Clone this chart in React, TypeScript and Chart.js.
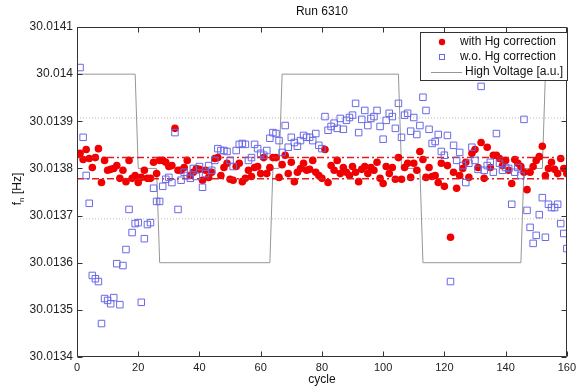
import React, { useEffect, useRef } from 'react';
import { Chart, registerables } from 'chart.js';

Chart.register(...registerables);

const titleText = 'Run 6310';
const xTitle = 'cycle';
const yTitleMain = 'f';
const yTitleSub = 'n';
const yTitleUnit = ' [Hz]';
const legendLabels = ['with Hg correction', 'w.o. Hg correction', 'High Voltage [a.u.]'];

const xTickValues = [0, 20, 40, 60, 80, 100, 120, 140, 160];
const xTickLabels = ['0', '20', '40', '60', '80', '100', '120', '140', '160'];
const yTickValues = [30.0134, 30.0135, 30.0136, 30.0137, 30.0138, 30.0139, 30.014, 30.0141];
const yTickLabels = ['30.0134', '30.0135', '30.0136', '30.0137', '30.0138', '30.0139', '30.014', '30.0141'];

const cycles = Array.from({ length: 160 }, (_, i) => i + 1);

const withHg = [
  30.013832, 30.013819, 30.01384, 30.013821, 30.013802, 30.013823, 30.013842, 30.01377, 30.013817, 30.013796,
  30.013798, 30.0138, 30.013806, 30.013779, 30.013796, 30.013772, 30.013817, 30.013779, 30.013785, 30.01377,
  30.013781, 30.013796, 30.013779, 30.013779, 30.013813, 30.013789, 30.013817, 30.013817, 30.013813, 30.013804,
  30.013806, 30.013885, 30.013796, 30.013796, 30.013802, 30.013817, 30.013785, 30.013792, 30.0138, 30.013798,
  30.013775, 30.013796, 30.013781, 30.013792, 30.013821, 30.013823, 30.013785, 30.013802, 30.013811, 30.013777,
  30.013775, 30.013804, 30.013811, 30.013772, 30.013779, 30.013796, 30.013783, 30.013802, 30.013804, 30.013789,
  30.013823, 30.013789, 30.013802, 30.013823, 30.013823, 30.013781, 30.013808, 30.013828, 30.013789, 30.013813,
  30.013772, 30.013792, 30.0138, 30.013811, 30.013796, 30.013798, 30.013817, 30.013792, 30.013785, 30.013779,
  30.01384, 30.01377, 30.013806, 30.013796, 30.013817, 30.013789, 30.013802, 30.013792, 30.013785, 30.013804,
  30.013792, 30.013772, 30.013798, 30.013804, 30.013789, 30.013802, 30.013796, 30.013813, 30.013779, 30.013768,
  30.013804, 30.013789, 30.013802, 30.013777, 30.013823, 30.013777, 30.013802, 30.013811, 30.013781, 30.013811,
  30.013796, 30.013836, 30.013819, 30.013781, 30.013802, 30.013783, 30.013785, 30.01377, 30.013811, 30.013762,
  30.013806, 30.013654, 30.013792, 30.013758, 30.013785, 30.0138, 30.013813, 30.013781, 30.013832, 30.01384,
  30.013802, 30.013855, 30.013779, 30.013845, 30.013802, 30.013828, 30.013828, 30.013821, 30.013806, 30.013817,
  30.013796, 30.013768, 30.013819, 30.013811, 30.013804, 30.013792, 30.013755, 30.013792, 30.013804, 30.013817,
  30.013825, 30.013847, 30.013785, 30.0138, 30.013813, 30.013798, 30.013789, 30.013821, 30.0138, 30.013789,
];

const withoutHg = [
  30.014014, 30.013866, 30.013785, 30.013726, 30.013573, 30.013566, 30.01356, 30.013471, 30.013524, 30.01352,
  30.013513, 30.013526, 30.013598, 30.013511, 30.013594, 30.013628, 30.013713, 30.013664, 30.013683, 30.013685,
  30.013516, 30.013651, 30.013681, 30.013685, 30.013758, 30.01373, 30.01373, 30.013762, 30.013777, 30.013781,
  30.01377, 30.013876, 30.013713, 30.013775, 30.013792, 30.013785, 30.013779, 30.0138, 30.013783, 30.013804,
  30.01376, 30.013789, 30.013806, 30.013796, 30.013817, 30.013842, 30.013838, 30.013838, 30.013836, 30.013817,
  30.013804, 30.013838, 30.013851, 30.013853, 30.013851, 30.013817, 30.013823, 30.013851, 30.013842, 30.013832,
  30.013828, 30.013838, 30.013864, 30.013876, 30.013874, 30.013859, 30.013834, 30.013891, 30.013845, 30.013866,
  30.013855, 30.013847, 30.013859, 30.01387, 30.013866, 30.013866, 30.013859, 30.013874, 30.013849, 30.013842,
  30.01391, 30.013881, 30.013889, 30.013896, 30.013885, 30.013906, 30.013883, 30.013902, 30.013908, 30.013913,
  30.013938, 30.013876, 30.013904, 30.013923, 30.013891, 30.013906, 30.01391, 30.013923, 30.013889, 30.013862,
  30.013902, 30.013917, 30.01391, 30.013885, 30.013938, 30.013866, 30.013913, 30.013917, 30.013879, 30.013908,
  30.013872, 30.013891, 30.013951, 30.013923, 30.013883, 30.013853, 30.013857, 30.013872, 30.013836, 30.013828,
  30.01387, 30.01356, 30.013849, 30.013817, 30.013834, 30.013806, 30.01377, 30.013811, 30.013845, 30.013817,
  30.013798, 30.013974, 30.013796, 30.013806, 30.013813, 30.013792, 30.013874, 30.013811, 30.013796, 30.013802,
  30.0138, 30.013724, 30.013792, 30.013802, 30.013785, 30.013904, 30.013711, 30.013675, 30.013641, 30.013658,
  30.013702, 30.013738, 30.013654, 30.013724, 30.013717, 30.013717, 30.013724, 30.013683, 30.013662, 30.01363,
];

// High voltage trace (arbitrary units mapped on the frequency axis)
const hvCycles = [0, 19, 20, 26, 27, 63, 64, 66, 67, 105, 106, 112, 113, 145, 146, 152, 153, 160];
const hvLevels = [
  30.014, 30.014, 30.0138, 30.0138, 30.0136, 30.0136, 30.0138, 30.0138, 30.014,
  30.014, 30.0138, 30.0138, 30.0136, 30.0136, 30.0138, 30.0138, 30.014, 30.014,
];

// mean +/- sigma bands
const redBandLevels = [30.013823, 30.013778];
const grayBandLevels = [30.013907, 30.013693];
const xRange = [0, 160];

const RED = 'rgb(240,0,0)';
const BLUE = 'rgb(105,105,230)';
const HV_GRAY = 'rgb(150,150,150)';
const FONT = '"Liberation Sans", Arial, Helvetica, sans-serif';

const overlayPlugin = {
  id: 'overlay',
  afterDatasetsDraw(chart: any) {
    const { ctx, chartArea: a, scales } = chart;
    const xs = scales.x;
    const ys = scales.y;
    ctx.save();
    ctx.strokeStyle = '#333';
    ctx.lineWidth = 1;
    const L = Math.round(a.left) + 0.5;
    const R = Math.round(a.right) - 0.5;
    const T = Math.round(a.top) + 0.5;
    const B = Math.round(a.bottom) - 0.5;
    ctx.beginPath();
    ctx.rect(L, T, R - L, B - T);
    ctx.stroke();
    ctx.beginPath();
    xTickValues.forEach((v) => {
      const px = Math.round(xs.getPixelForValue(v)) + 0.5;
      ctx.moveTo(px, B);
      ctx.lineTo(px, B - 5);
      ctx.moveTo(px, T);
      ctx.lineTo(px, T + 5);
    });
    yTickValues.forEach((v) => {
      const py = Math.round(ys.getPixelForValue(v)) + 0.5;
      ctx.moveTo(L, py);
      ctx.lineTo(L + 5, py);
      ctx.moveTo(R, py);
      ctx.lineTo(R - 5, py);
    });
    ctx.stroke();

    // legend
    const lx = 420.5, ly = 32.5, lw = 147, lh = 48;
    ctx.fillStyle = '#fff';
    ctx.fillRect(lx, ly, lw, lh);
    ctx.strokeStyle = '#333';
    ctx.strokeRect(lx, ly, lw, lh);
    ctx.font = `12px ${FONT}`;
    ctx.textBaseline = 'middle';
    ctx.textAlign = 'left';
    ctx.fillStyle = '#111';
    const rows = [42, 57, 72];
    // red dot
    ctx.beginPath();
    ctx.fillStyle = RED;
    ctx.arc(442, rows[0], 3.2, 0, Math.PI * 2);
    ctx.fill();
    // blue square
    ctx.strokeStyle = BLUE;
    ctx.strokeRect(439.5, rows[1] - 2.5, 5, 5);
    // hv line
    ctx.strokeStyle = HV_GRAY;
    ctx.beginPath();
    ctx.moveTo(431, rows[2] + 0.5);
    ctx.lineTo(462, rows[2] + 0.5);
    ctx.stroke();
    ctx.fillStyle = '#111';
    ctx.fillText(legendLabels[0], 460, rows[0]);
    ctx.fillText(legendLabels[1], 460, rows[1]);
    ctx.fillText(legendLabels[2], 465, rows[2]);
    ctx.restore();
  },
  afterDraw(chart: any) {
    const { ctx, chartArea: a } = chart;
    ctx.save();
    ctx.fillStyle = '#111';
    ctx.font = `12px ${FONT}`;
    ctx.textAlign = 'center';
    ctx.textBaseline = 'middle';
    const cx = (a.left + a.right) / 2;
    ctx.fillText(titleText, cx, 12);
    ctx.fillText(xTitle, cx, 380);
    // rotated y title with subscript
    ctx.translate(17, (a.top + a.bottom) / 2 - 3);
    ctx.rotate(-Math.PI / 2);
    ctx.textAlign = 'left';
    ctx.textBaseline = 'alphabetic';
    const mainFont = `12px ${FONT}`;
    const subFont = `8px ${FONT}`;
    ctx.font = mainFont;
    const w1 = ctx.measureText(yTitleMain).width;
    const w3 = ctx.measureText(yTitleUnit).width;
    ctx.font = subFont;
    const w2 = ctx.measureText(yTitleSub).width;
    let x0 = -(w1 + w2 + w3) / 2;
    ctx.font = mainFont;
    ctx.fillText(yTitleMain, x0, 4);
    x0 += w1;
    ctx.font = subFont;
    ctx.fillText(yTitleSub, x0, 7);
    x0 += w2;
    ctx.font = mainFont;
    ctx.fillText(yTitleUnit, x0, 4);
    ctx.restore();
  },
};

export default function App() {
  const canvasRef = useRef<HTMLCanvasElement | null>(null);

  useEffect(() => {
    const canvas = canvasRef.current;
    if (!canvas) return;
    const hline = (v: number) => xRange.map((x) => ({ x, y: v }));
    const chart = new Chart(canvas, {
      type: 'scatter',
      data: {
        datasets: [
          {
            label: legendLabels[2],
            data: hvCycles.map((c, i) => ({ x: c, y: hvLevels[i] })),
            showLine: true,
            borderColor: HV_GRAY,
            borderWidth: 1,
            pointRadius: 0,
            order: 6,
          },
          ...grayBandLevels.map((v) => ({
            label: 'band',
            data: hline(v),
            showLine: true,
            borderColor: 'rgb(190,190,190)',
            borderWidth: 1,
            borderDash: [1, 2],
            pointRadius: 0,
            order: 5,
          })),
          {
            label: legendLabels[0],
            data: cycles.map((c, i) => ({ x: c, y: withHg[i] })),
            pointStyle: 'circle',
            pointRadius: 3.8,
            pointBackgroundColor: RED,
            pointBorderColor: RED,
            pointBorderWidth: 0,
            showLine: false,
            order: 4,
          },
          ...redBandLevels.map((v) => ({
            label: 'red band',
            data: hline(v),
            showLine: true,
            borderColor: 'rgb(225,30,30)',
            borderWidth: 1.5,
            borderDash: [7, 3, 2, 3],
            pointRadius: 0,
            order: 3,
          })),
          {
            label: legendLabels[1],
            data: cycles.map((c, i) => ({ x: c, y: withoutHg[i] })),
            pointStyle: 'rect',
            pointRadius: 4.6,
            pointBackgroundColor: 'rgba(0,0,0,0)',
            pointBorderColor: BLUE,
            pointBorderWidth: 1,
            showLine: false,
            order: 2,
          },
        ],
      },
      options: {
        responsive: false,
        animation: false,
        devicePixelRatio: 1,
        layout: { padding: { left: 0, right: 10, top: 27, bottom: 0 } },
        plugins: {
          legend: { display: false },
          title: { display: false },
          tooltip: { enabled: false },
        },
        events: [],
        scales: {
          x: {
            type: 'linear',
            min: 0,
            max: 160,
            grid: { display: false, drawTicks: false },
            border: { display: false },
            afterBuildTicks: (s: any) => {
              s.ticks = xTickValues.map((v) => ({ value: v }));
            },
            afterFit: (s: any) => {
              s.height = 35;
            },
            ticks: {
              padding: 4,
              color: '#222',
              font: { family: FONT, size: 11 },
              maxRotation: 0,
              autoSkip: false,
              callback: (_v: any, i: number) => xTickLabels[i],
            },
          },
          y: {
            type: 'linear',
            min: 30.0134,
            max: 30.0141,
            grid: { display: false, drawTicks: false },
            border: { display: false },
            afterBuildTicks: (s: any) => {
              s.ticks = yTickValues.map((v) => ({ value: v }));
            },
            afterFit: (s: any) => {
              s.width = 77;
            },
            ticks: {
              padding: 4,
              color: '#222',
              font: { family: FONT, size: 12 },
              autoSkip: false,
              callback: (_v: any, i: number) => yTickLabels[i],
            },
          },
        },
      },
      plugins: [overlayPlugin],
    } as any);
    return () => chart.destroy();
  }, []);

  return (
    <div style={{ position: 'fixed', left: 0, top: 0, width: 580, height: 392, background: '#fff' }}>
      <canvas ref={canvasRef} width={580} height={392} style={{ display: 'block' }} />
    </div>
  );
}
